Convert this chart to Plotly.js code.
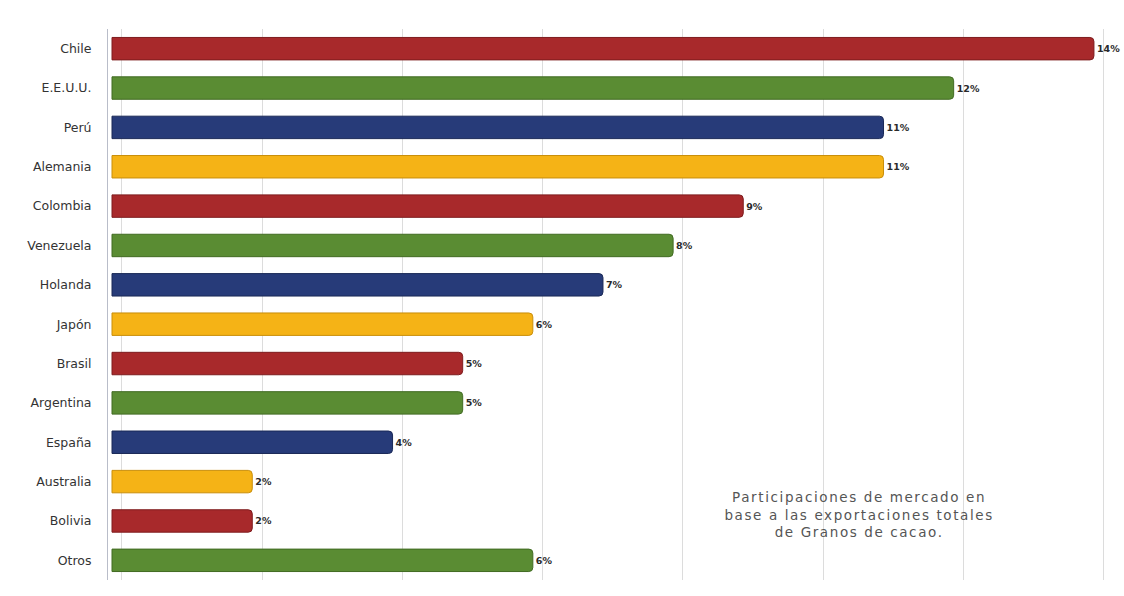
<!DOCTYPE html>
<html>
<head>
<meta charset="utf-8">
<script src="https://cdn.plot.ly/plotly-3.0.1.min.js"></script>
<style>
html,body{margin:0;padding:0;background:#fff;}
#chart{width:1124px;height:596px;}
#chart .annotation-text{letter-spacing:1.6px;}
</style>
</head>
<body>
<div id="chart"></div>
<script>
const countries = ["Chile","E.E.U.U.","Perú","Alemania","Colombia","Venezuela","Holanda","Japón","Brasil","Argentina","España","Australia","Bolivia","Otros"];
const shares = [14,12,11,11,9,8,7,6,5,5,4,2,2,6];
const valueLabels = ["14%","12%","11%","11%","9%","8%","7%","6%","5%","5%","4%","2%","2%","6%"];
const palette = ["#A8292B","#5A8C33","#273B79","#F5B316"];
const edgePalette = ["#7E1C1E","#416B22","#1A2957","#C98E0A"];
const noteText = "Participaciones de mercado en<br>base a las exportaciones totales<br>de Granos de cacao.";

const colors = countries.map((_, i) => palette[i % palette.length]);
const edges = countries.map((_, i) => edgePalette[i % edgePalette.length]);

const trace = {
  type: "bar",
  orientation: "h",
  y: countries,
  x: shares,
  text: valueLabels,
  textposition: "outside",
  cliponaxis: false,
  textfont: {family: "DejaVu Sans", size: 9.5, color: "#2a2a2a", weight: "bold"},
  marker: {color: colors, line: {color: edges, width: 1}, cornerradius: 4},
  width: 0.57,
  hoverinfo: "skip"
};

const layout = {
  width: 1124, height: 596,
  margin: {l: 108, r: 10, t: 29, b: 16},
  paper_bgcolor: "#ffffff",
  plot_bgcolor: "#ffffff",
  showlegend: false,
  xaxis: {
    range: [-0.057, 14.286],
    tick0: 0.14, dtick: 2,
    showgrid: true, gridcolor: "#dcdcdc", gridwidth: 1,
    zeroline: false, showticklabels: false, ticks: "",
    showline: false
  },
  yaxis: {
    autorange: "reversed",
    showline: true, linecolor: "#b9bdc9", linewidth: 1,
    ticks: "", ticklen: 0,
    ticklabelstandoff: 13,
    tickfont: {family: "DejaVu Sans", size: 12.5, color: "#333333"},
    showgrid: false
  },
  annotations: [{
    xref: "paper", yref: "paper",
    x: 0.747, y: 0.118,
    xanchor: "center", yanchor: "middle",
    text: noteText,
    showarrow: false,
    align: "center",
    font: {family: "DejaVu Sans", size: 13.5, color: "#555555"}
  }]
};

Plotly.newPlot("chart", [trace], layout, {displayModeBar: false, staticPlot: true});
</script>
</body>
</html>
